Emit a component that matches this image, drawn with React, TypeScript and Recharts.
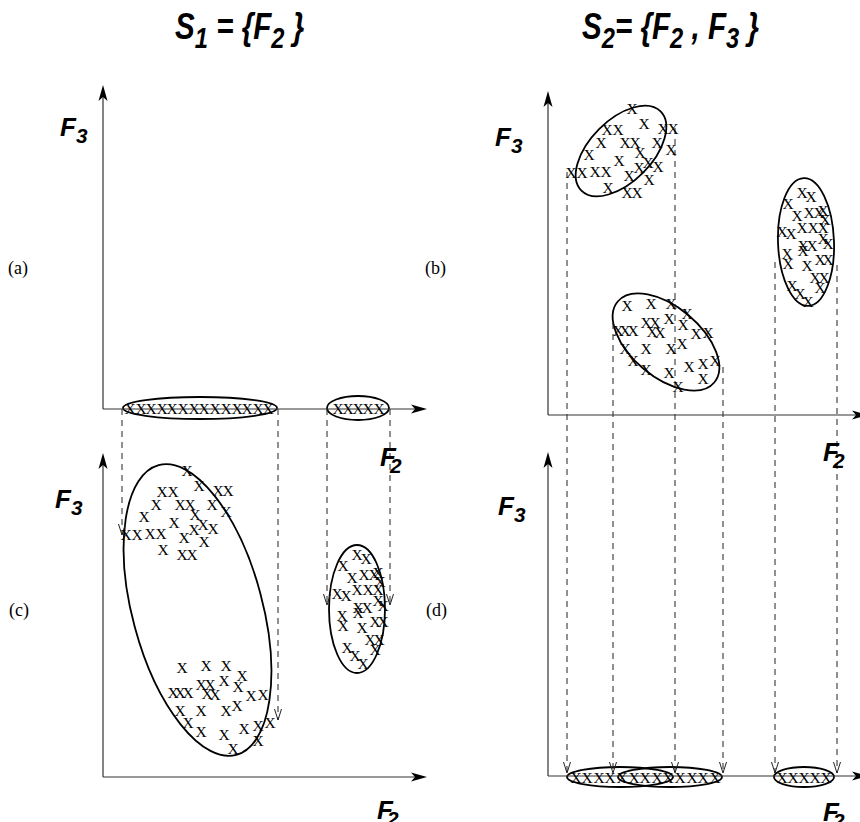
import React from 'react';
import {
  ScatterChart,
  Scatter,
  XAxis,
  YAxis,
  ReferenceArea,
  ReferenceLine,
} from 'recharts';

type Pt = { f2: number; f3: number };
type Oval = { f2: number; f3: number; rx: number; ry: number; angle: number };
type Drop = { f2: number; from: number; to: number };

// the three clusters in the full (F2, F3) space, drawn in (b) and (c)
const clusterTop: Pt[] = [
  { f2: 42, f3: 153.5 }, { f2: 29.5, f3: 143 }, { f2: 35, f3: 143 }, { f2: 48, f3: 146 },
  { f2: 57.5, f3: 143.5 }, { f2: 62.5, f3: 143.5 }, { f2: 26.5, f3: 136.5 }, { f2: 38.5, f3: 136.5 },
  { f2: 43.5, f3: 136.5 }, { f2: 54.5, f3: 136.5 }, { f2: 46, f3: 131.5 }, { f2: 61.5, f3: 133 },
  { f2: 20.5, f3: 130.5 }, { f2: 35.5, f3: 127.5 }, { f2: 50, f3: 126.5 }, { f2: 55, f3: 124.5 },
  { f2: 45.5, f3: 124 }, { f2: 11.5, f3: 121.5 }, { f2: 17, f3: 121.5 }, { f2: 23.5, f3: 122 },
  { f2: 29, f3: 122 }, { f2: 40.5, f3: 120 }, { f2: 50.5, f3: 118 }, { f2: 30, f3: 114 },
  { f2: 39.5, f3: 111.5 }, { f2: 44.5, f3: 111.5 },
];
const clusterMid: Pt[] = [
  { f2: 39.5, f3: 55 }, { f2: 51.5, f3: 56 }, { f2: 61.5, f3: 56 }, { f2: 69.5, f3: 51 },
  { f2: 60.5, f3: 48.5 }, { f2: 49, f3: 46.5 }, { f2: 53.5, f3: 46.5 }, { f2: 67.5, f3: 45.5 },
  { f2: 35, f3: 42.5 }, { f2: 38.5, f3: 42.5 }, { f2: 42.5, f3: 42.5 }, { f2: 52, f3: 42 },
  { f2: 56, f3: 41.5 }, { f2: 74, f3: 41 }, { f2: 80, f3: 41.5 }, { f2: 38.5, f3: 33.5 },
  { f2: 49, f3: 33.5 }, { f2: 61.5, f3: 33.5 }, { f2: 67, f3: 36 }, { f2: 42.5, f3: 27.5 },
  { f2: 49, f3: 23 }, { f2: 70.5, f3: 24.5 }, { f2: 77.5, f3: 26 }, { f2: 83.5, f3: 27.5 },
  { f2: 60.5, f3: 21.5 }, { f2: 77.5, f3: 18.5 }, { f2: 65, f3: 14.5 },
];
const clusterRight: Pt[] = [
  { f2: 127, f3: 111.5 }, { f2: 131.5, f3: 109.5 }, { f2: 120, f3: 106 }, { f2: 124.5, f3: 100 },
  { f2: 130.5, f3: 101.5 }, { f2: 135.5, f3: 101.5 }, { f2: 137.5, f3: 102.5 }, { f2: 138.5, f3: 98 },
  { f2: 117, f3: 92 }, { f2: 121.5, f3: 91 }, { f2: 127, f3: 94 }, { f2: 132.5, f3: 94 },
  { f2: 137.5, f3: 94 }, { f2: 137.5, f3: 88.5 }, { f2: 140, f3: 86 }, { f2: 127.5, f3: 85 },
  { f2: 127.5, f3: 82.5 }, { f2: 132, f3: 85 }, { f2: 119.5, f3: 81 }, { f2: 120, f3: 76 },
  { f2: 129.5, f3: 75 }, { f2: 136, f3: 78 }, { f2: 140, f3: 78 }, { f2: 133.5, f3: 69 },
  { f2: 138, f3: 69 }, { f2: 136, f3: 64 }, { f2: 122, f3: 65 }, { f2: 126, f3: 61 },
  { f2: 130, f3: 57 },
];

// F2 values seen on the F2 axis alone
const s1Marks = [13.5, 19, 24, 29.5, 34.5, 40, 45.5, 50.5, 56, 61.5, 67, 72, 77.5, 82.5, 117.5, 122.5, 127.5, 132.5, 138];
const s2Marks = [14, 19.5, 25.5, 31, 37, 43, 48.5, 54.5, 60, 66, 72, 77.5, 83.5, 117, 122.5, 128, 133.5, 139];

const aOvals: Oval[] = [
  { f2: 48.5, f3: 0.5, rx: 38.5, ry: 5.5, angle: 0 },
  { f2: 127.5, f3: 0.5, rx: 15.5, ry: 6, angle: 0 },
];
const cOvals: Oval[] = [
  { f2: 47.25, f3: 83.5, rx: 32.5, ry: 75, angle: -15 },
  { f2: 127, f3: 84, rx: 14, ry: 32, angle: 0 },
];
const bOvals: Oval[] = [
  { f2: 36.5, f3: 132, rx: 28, ry: 15.5, angle: -45 },
  { f2: 59, f3: 36.5, rx: 31.5, ry: 17.5, angle: 40 },
  { f2: 129, f3: 86.5, rx: 14, ry: 32, angle: -2 },
];
const dOvals: Oval[] = [
  { f2: 36, f3: -0.5, rx: 26.5, ry: 5, angle: 0 },
  { f2: 61, f3: -0.5, rx: 26, ry: 5, angle: 0 },
  { f2: 128, f3: -0.5, rx: 15, ry: 5, angle: 0 },
];

// dashed projections: from F3 in upper panel down to F3 in lower panel
const leftDrops: Drop[] = [
  { f2: 9.5, from: 0, to: 121 },
  { f2: 87.5, from: 0, to: 28.5 },
  { f2: 112, from: 0, to: 86 },
  { f2: 143.5, from: 0, to: 86 },
];
const rightDrops: Drop[] = [
  { f2: 9.5, from: 121.5, to: 1.5 },
  { f2: 32.5, from: 46, to: 1.5 },
  { f2: 63.5, from: 143.5, to: 1.5 },
  { f2: 87.5, from: 24, to: 1.5 },
  { f2: 113.5, from: 76.5, to: 1.5 },
  { f2: 144.5, from: 75, to: 1.5 },
];

const AXIS_F3 = 162;

const XMark = (p: any) => (
  <text
    x={p.cx}
    y={p.cy}
    textAnchor="middle"
    dominantBaseline="central"
    fontFamily="'Liberation Serif', 'Times New Roman', serif"
    fontSize={15.5}
    fill="#000"
  >
    X
  </text>
);

const ovalShape = (angle: number) => (p: any) => {
  const w = Math.abs(p.width);
  const h = Math.abs(p.height);
  const cx = Math.min(p.x, p.x + p.width) + w / 2;
  const cy = Math.min(p.y, p.y + p.height) + h / 2;
  return (
    <ellipse
      cx={cx}
      cy={cy}
      rx={w / 2}
      ry={h / 2}
      transform={`rotate(${angle} ${cx} ${cy})`}
      fill="none"
      stroke="#000"
      strokeWidth={1.8}
    />
  );
};

const dropShape = (p: any) => {
  const { x1, y1, x2, y2 } = p;
  return (
    <g>
      <line x1={x1} y1={y1} x2={x2} y2={y2} stroke="#222" strokeWidth={1} strokeDasharray="6 5" />
      <polyline
        points={`${x2 - 3.5},${y2 - 11} ${x2},${y2} ${x2 + 3.5},${y2 - 11}`}
        fill="none"
        stroke="#222"
        strokeWidth={1}
      />
    </g>
  );
};

const axisShape = (p: any) => {
  const { x1, y1, x2, y2 } = p;
  const len = Math.hypot(x2 - x1, y2 - y1) || 1;
  const ux = (x2 - x1) / len;
  const uy = (y2 - y1) / len;
  const bx = x2 - ux * 16;
  const by = y2 - uy * 16;
  const nx = x2 - ux * 12;
  const ny = y2 - uy * 12;
  const px = -uy * 4.5;
  const py = ux * 4.5;
  return (
    <g>
      <line x1={x1} y1={y1} x2={nx} y2={ny} stroke="#333" strokeWidth={1.2} />
      <polygon
        points={`${x2},${y2} ${bx + px},${by + py} ${nx},${ny} ${bx - px},${by - py}`}
        fill="#000"
      />
    </g>
  );
};

interface ColumnProps {
  width: number;
  margin: { top: number; right: number; bottom: number; left: number };
  xDomain: [number, number];
  axisF2: number;
  lift: number;
  upperPts: Pt[];
  lowerPts: Pt[];
  upperOvals: Oval[];
  lowerOvals: Oval[];
  drops: Drop[];
}

function Column({ width, margin, xDomain, axisF2, lift, upperPts, lowerPts, upperOvals, lowerOvals, drops }: ColumnProps) {
  const upper = upperPts.map((p) => ({ x: p.f2, y: p.f3 + lift }));
  const lower = lowerPts.map((p) => ({ x: p.f2, y: p.f3 }));
  const ovals = [
    ...upperOvals.map((o) => ({ ...o, f3: o.f3 + lift })),
    ...lowerOvals,
  ];
  return (
    <ScatterChart width={width} height={822} margin={margin}>
      <XAxis type="number" dataKey="x" domain={xDomain} hide allowDataOverflow />
      <YAxis type="number" dataKey="y" domain={[-20, 370]} hide allowDataOverflow />
      {drops.map((d, i) => (
        <ReferenceLine
          key={`d${i}`}
          segment={[{ x: d.f2, y: d.from + lift }, { x: d.f2, y: d.to }]}
          ifOverflow="visible"
          shape={dropShape}
        />
      ))}
      {ovals.map((o, i) => (
        <ReferenceArea
          key={`o${i}`}
          x1={o.f2 - o.rx}
          x2={o.f2 + o.rx}
          y1={o.f3 - o.ry}
          y2={o.f3 + o.ry}
          ifOverflow="visible"
          shape={ovalShape(o.angle)}
        />
      ))}
      {[lift, 0].map((base) => (
        <ReferenceLine
          key={`y${base}`}
          segment={[{ x: 0, y: base }, { x: 0, y: base + AXIS_F3 }]}
          ifOverflow="visible"
          shape={axisShape}
        />
      ))}
      {[lift, 0].map((base) => (
        <ReferenceLine
          key={`x${base}`}
          segment={[{ x: 0, y: base }, { x: axisF2, y: base }]}
          ifOverflow="visible"
          shape={axisShape}
        />
      ))}
      <Scatter data={upper} shape={XMark} isAnimationActive={false} />
      <Scatter data={lower} shape={XMark} isAnimationActive={false} />
    </ScatterChart>
  );
}

const Sub = ({ children }: { children: React.ReactNode }) => (
  <span style={{ fontSize: '0.8em', position: 'relative', top: '0.32em' }}>{children}</span>
);

const symFont: React.CSSProperties = {
  position: 'absolute',
  fontFamily: "'Liberation Sans', Arial, sans-serif",
  fontWeight: 700,
  fontStyle: 'italic',
  lineHeight: 1,
  whiteSpace: 'nowrap',
  color: '#000',
};

const F = ({ x, y, n, tight }: { x: number; y: number; n: string; tight?: boolean }) => (
  <div style={{ ...symFont, left: x, top: y, fontSize: 26 }}>
    F<span style={{ marginLeft: tight ? -6 : 0 }}><Sub>{n}</Sub></span>
  </div>
);

const Tag = ({ x, y, t }: { x: number; y: number; t: string }) => (
  <div
    style={{
      position: 'absolute',
      left: x,
      top: y,
      fontFamily: "'Liberation Serif', 'Times New Roman', serif",
      fontSize: 18,
      lineHeight: 1,
    }}
  >
    {t}
  </div>
);

const allClusters = [...clusterTop, ...clusterMid, ...clusterRight];

const titleStyle: React.CSSProperties = {
  ...symFont,
  top: 8,
  fontSize: 37,
  transform: 'scaleX(0.8)',
  transformOrigin: 'left top',
};

export default function App() {
  return (
    <div style={{ position: 'absolute', left: 0, top: 0, width: 860, height: 822, background: '#fff', overflow: 'hidden' }}>
      <div style={{ position: 'absolute', left: 0, top: 0 }}>
        <Column
          width={440}
          margin={{ top: 37, right: 7, bottom: 5, left: 83 }}
          xDomain={[-10, 165]}
          axisF2={162}
          lift={184}
          upperPts={s1Marks.map((f2) => ({ f2, f3: 0.5 }))}
          lowerPts={allClusters}
          upperOvals={aOvals}
          lowerOvals={cOvals}
          drops={leftDrops}
        />
      </div>
      <div style={{ position: 'absolute', left: 0, top: 0 }}>
        <Column
          width={860}
          margin={{ top: 36, right: 0, bottom: 6, left: 528 }}
          xDomain={[-10, 156]}
          axisF2={160}
          lift={180.5}
          upperPts={allClusters}
          lowerPts={s2Marks.map((f2) => ({ f2, f3: -0.5 }))}
          upperOvals={bOvals}
          lowerOvals={dOvals}
          drops={rightDrops}
        />
      </div>

      <div style={{ ...titleStyle, left: 175 }}>
        S<Sub>1</Sub> = {'{'}F<Sub>2</Sub> {'}'}
      </div>
      <div style={{ ...titleStyle, left: 582 }}>
        S<Sub>2</Sub>= {'{'}F<Sub>2</Sub> , F<Sub>3</Sub> {'}'}
      </div>

      <F x={60} y={114} n="3" />
      <F x={495} y={124} n="3" />
      <F x={55} y={486} n="3" />
      <F x={498} y={493} n="3" />
      <F x={380} y={444} n="2" tight />
      <F x={823} y={439} n="2" tight />
      <F x={377} y={797} n="2" tight />
      <F x={823} y={799} n="2" tight />

      <Tag x={8} y={259} t="(a)" />
      <Tag x={425} y={259} t="(b)" />
      <Tag x={9} y={601} t="(c)" />
      <Tag x={426} y={601} t="(d)" />
    </div>
  );
}
